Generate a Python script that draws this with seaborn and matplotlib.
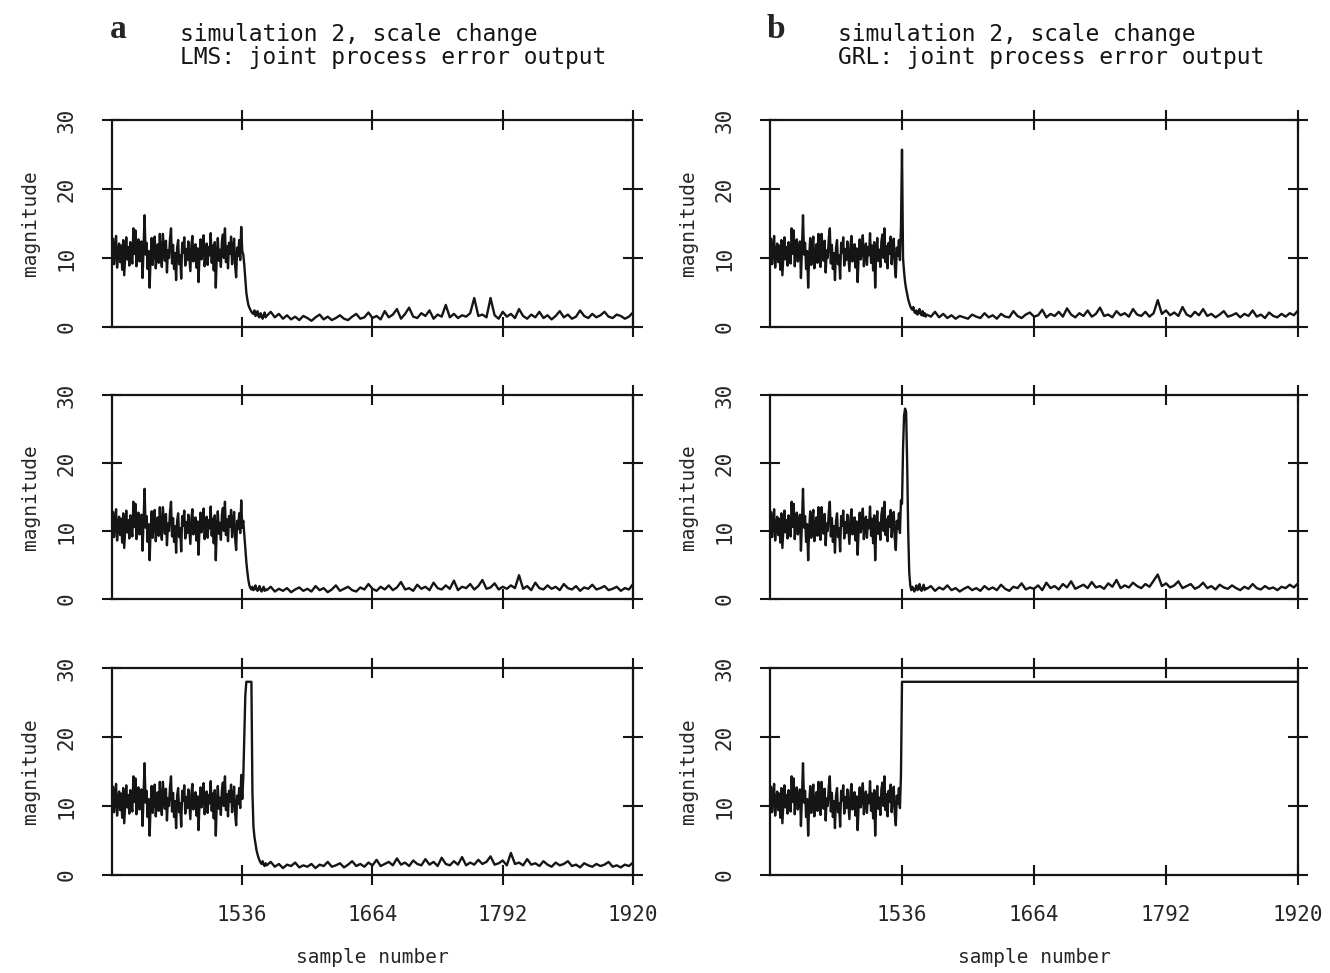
import numpy as np
import pandas as pd
import matplotlib
matplotlib.use("Agg")
import matplotlib.pyplot as plt
import seaborn as sns

# ---------------- data ----------------
x_ticks = [1536, 1664, 1792, 1920]
y_ticks = [0, 10, 20, 30]
x_range = [1408, 1920]
y_range = [0, 30]

# input segment before the scale change (one value per sample, 1408..1535)
pre_start = 1408
pre_change = [
    10.2, 12.8, 9.1, 11.5, 13.2, 8.6, 10.9, 12.1, 9.4, 11.8, 8.3, 12.6, 7.5, 10.4, 13.0, 9.8,
    11.6, 8.9, 12.3, 10.1, 9.2, 14.3, 10.6, 14.0, 8.8, 11.2, 12.7, 9.5, 10.8, 12.4, 7.1, 11.3,
    16.2, 10.5, 12.2, 8.4, 11.0, 5.7, 10.3, 12.9, 9.0, 11.7, 13.1, 8.5, 10.6, 12.0, 9.3, 13.5,
    10.1, 8.7, 13.5, 11.4, 9.6, 12.5, 7.9, 11.1, 10.0, 12.8, 14.3, 9.2, 11.9, 8.4, 10.7, 6.8,
    11.5, 12.6, 9.1, 10.4, 7.0, 12.2, 10.8, 13.0, 8.9, 11.3, 9.7, 12.4, 10.2, 8.1, 11.8, 13.2,
    9.5, 10.9, 12.0, 8.6, 11.4, 6.5, 10.3, 12.7, 9.8, 11.1, 13.3, 8.8, 10.6, 12.1, 9.0, 11.6,
    10.4, 13.6, 9.3, 11.8, 8.2, 12.3, 5.7, 10.5, 12.9, 9.6, 11.2, 8.7, 12.4, 13.4, 10.0, 14.3,
    9.4, 11.7, 8.5, 12.2, 10.6, 13.1, 9.1, 11.4, 12.8, 8.9, 7.2, 11.5, 10.3, 12.6, 9.7, 14.5,
]

# transient just after the change (one value per sample, 1536..1559)
transient_start = 1536
lms_top_transient = [11.0, 10.5, 9.0, 7.0, 5.0, 4.0, 3.2, 2.8, 2.5, 2.2, 2.0, 1.9,
                     2.4, 1.6, 1.8, 2.3, 1.5, 1.4, 2.0, 1.7, 1.2, 1.6, 2.1, 1.4]
lms_mid_transient = [10.5, 11.5, 9.5, 7.5, 5.5, 4.0, 2.8, 2.0, 1.6, 1.4, 1.8, 1.3,
                     1.5, 2.0, 1.4, 1.2, 1.6, 1.9, 1.3, 1.1, 1.5, 1.8, 1.2, 1.4]
lms_bot_transient = [11.0, 14.0, 20.0, 26.0, 28.0, 28.0, 28.0, 28.0, 28.0, 28.0, 12.0, 7.0,
                     5.5, 4.5, 3.6, 3.0, 2.5, 2.1, 1.8, 1.6, 2.0, 1.5, 1.3, 1.7]
grl_top_transient = [25.7, 10.0, 8.0, 6.5, 5.5, 4.8, 4.0, 3.5, 3.0, 2.7, 2.5, 2.9,
                     2.2, 2.0, 2.4, 1.8, 2.1, 2.6, 1.9, 1.7, 2.3, 1.6, 2.0, 1.5]
grl_mid_transient = [14.0, 22.0, 27.0, 28.0, 27.5, 20.0, 10.0, 4.0, 2.0, 1.3, 1.8, 1.4,
                     1.1, 1.6, 2.0, 1.3, 1.5, 2.2, 1.4, 1.2, 1.7, 2.1, 1.3, 1.6]

# converged output (every 4th sample, 1560..1920)
tail_start = 1560
tail_step = 4
lms_top_tail = [
    1.6, 2.2, 1.4, 1.9, 1.2, 1.7, 1.1, 1.5, 1.0, 1.6,
    1.3, 0.9, 1.4, 1.8, 1.1, 1.5, 1.0, 1.3, 1.7, 1.2,
    1.0, 1.5, 1.9, 1.2, 1.4, 2.1, 1.3, 1.6, 1.1, 2.3,
    1.4, 1.8, 2.6, 1.2, 1.9, 2.8, 1.5, 1.3, 2.0, 1.6,
    2.4, 1.2, 1.8, 1.5, 3.2, 1.4, 1.9, 1.3, 1.7, 1.5,
    2.0, 4.2, 1.6, 1.8, 1.4, 4.2, 1.7, 1.2, 2.2, 1.5,
    1.9, 1.3, 2.6, 1.6, 1.2, 1.8, 1.4, 2.2, 1.3, 1.7,
    1.1, 1.6, 2.3, 1.4, 1.8, 1.2, 1.5, 2.4, 1.6, 1.3,
    1.9, 1.4, 1.7, 2.2, 1.5, 1.3, 1.8, 1.6, 1.2, 1.5, 2.1,
]
lms_mid_tail = [
    1.3, 1.8, 1.1, 1.5, 1.2, 1.6, 1.0, 1.4, 1.7, 1.2,
    1.5, 1.1, 1.9, 1.3, 1.6, 1.0, 1.4, 2.0, 1.2, 1.5,
    1.8, 1.3, 1.1, 1.7, 1.4, 2.2, 1.5, 1.2, 1.8, 1.4,
    2.0, 1.3, 1.7, 2.5, 1.4, 1.6, 1.2, 2.1, 1.5, 1.8,
    1.3, 2.4, 1.6, 1.4, 2.0, 1.5, 2.7, 1.3, 1.8, 1.6,
    2.2, 1.4, 1.9, 2.8, 1.5, 1.7, 2.3, 1.4, 1.8, 1.5,
    2.0, 1.6, 3.5, 1.5, 1.9, 1.3, 2.4, 1.6, 1.4, 2.0,
    1.5, 1.8, 1.3, 2.2, 1.6, 1.4, 1.9, 1.2, 1.7, 1.5,
    2.1, 1.4, 1.6, 1.9, 1.3, 1.5, 1.8, 1.2, 1.6, 1.4, 2.2,
]
lms_bot_tail = [
    1.4, 1.9, 1.2, 1.6, 1.0, 1.5, 1.3, 1.8, 1.1, 1.4,
    1.2, 1.6, 1.0, 1.5, 1.3, 1.9, 1.2, 1.4, 1.7, 1.1,
    1.5, 2.0, 1.3, 1.6, 1.2, 1.8, 1.4, 2.2, 1.3, 1.6,
    1.9, 1.4, 2.4, 1.5, 1.8, 1.3, 2.1, 1.6, 1.4, 2.3,
    1.5, 1.9, 1.3, 2.5, 1.6, 1.4, 2.0, 1.5, 2.6, 1.4,
    1.8, 1.5, 2.2, 1.6, 1.9, 2.7, 1.5, 1.7, 2.1, 1.4,
    3.2, 1.6, 1.8, 1.4, 2.3, 1.5, 1.7, 1.3, 2.0, 1.5,
    1.2, 1.8, 1.4, 1.6, 2.0, 1.3, 1.5, 1.1, 1.7, 1.4,
    1.2, 1.6, 1.3, 1.5, 1.9, 1.2, 1.4, 1.1, 1.5, 1.3, 1.8,
]
grl_top_tail = [
    1.8, 1.5, 2.2, 1.4, 1.9, 1.3, 1.7, 1.2, 1.6, 1.4,
    1.2, 1.8, 1.5, 1.3, 2.0, 1.4, 1.7, 1.2, 1.9, 1.5,
    1.4, 2.3, 1.6, 1.3, 1.8, 2.1, 1.5, 1.7, 2.5, 1.4,
    1.9, 1.6, 2.2, 1.5, 2.7, 1.8, 1.4, 2.0, 1.6, 2.4,
    1.5, 1.9, 2.8, 1.6, 1.8, 1.4, 2.3, 1.7, 2.0, 1.5,
    2.6, 1.8, 1.6, 2.2, 1.5, 2.0, 3.9, 1.9, 2.4, 1.7,
    2.1, 1.6, 2.9, 1.8, 1.5, 2.2, 1.7, 2.6, 1.6, 1.9,
    1.4, 1.8, 2.3, 1.5, 1.7, 2.0, 1.4, 1.9, 1.6, 2.4,
    1.5, 1.8, 1.3, 2.1, 1.6, 1.4, 1.9, 1.5, 2.0, 1.7, 2.4,
]
grl_mid_tail = [
    1.5, 1.9, 1.2, 1.7, 1.4, 2.0, 1.3, 1.6, 1.1, 1.5,
    1.8, 1.3, 1.6, 1.2, 1.9, 1.4, 1.7, 1.3, 2.1, 1.5,
    1.2, 1.8, 1.6, 2.3, 1.4, 1.7, 1.5, 2.0, 1.3, 2.4,
    1.6, 1.9, 1.4, 2.2, 1.7, 2.6, 1.5, 1.8, 2.1, 1.6,
    2.5, 1.7, 1.9, 1.5, 2.3, 1.8, 2.8, 1.6, 2.0, 1.7,
    2.4, 1.9, 1.6, 2.2, 1.8, 2.7, 3.6, 1.9, 2.3, 1.7,
    2.0, 2.6, 1.6, 1.9, 2.2, 1.5, 1.8, 2.4, 1.6, 1.9,
    1.4, 2.1, 1.7, 1.5, 2.0, 1.6, 1.3, 1.8, 1.5, 2.2,
    1.6, 1.4, 1.9, 1.5, 1.7, 1.3, 1.8, 1.6, 2.1, 1.7, 2.3,
]
# GRL bottom: output saturates at a constant level after the change
grl_bot_post_samples = [1536, 1920]
grl_bot_post_values = [28.0, 28.0]

panel_letters = ["a", "b"]
column_titles = [
    "simulation 2, scale change\nLMS: joint process error output",
    "simulation 2, scale change\nGRL: joint process error output",
]
x_label = "sample number"
y_label = "magnitude"


def panel_frame(post_samples, post_values):
    s = list(range(pre_start, pre_start + len(pre_change))) + list(post_samples)
    v = list(pre_change) + list(post_values)
    return pd.DataFrame({"sample": s, "magnitude": v})


def standard_post(transient, tail):
    s = list(range(transient_start, transient_start + len(transient)))
    s += [tail_start + tail_step * k for k in range(len(tail))]
    return s, list(transient) + list(tail)


panels = [
    [panel_frame(*standard_post(lms_top_transient, lms_top_tail)),
     panel_frame(*standard_post(grl_top_transient, grl_top_tail))],
    [panel_frame(*standard_post(lms_mid_transient, lms_mid_tail)),
     panel_frame(*standard_post(grl_mid_transient, grl_mid_tail))],
    [panel_frame(*standard_post(lms_bot_transient, lms_bot_tail)),
     panel_frame(grl_bot_post_samples, grl_bot_post_values)],
]

# ---------------- style ----------------
sns.set_style("white")
plt.rcParams["font.family"] = ["DejaVu Sans Mono"]
ink = "#151515"

W, H = 1330, 973
fig = plt.figure(figsize=(W / 100, H / 100), dpi=100)
fig.patch.set_facecolor("white")

col_px = [(112, 633), (770, 1298)]
row_px = [(120, 327), (395, 599), (668, 875)]

for r, (top, bot) in enumerate(row_px):
    for c, (left, right) in enumerate(col_px):
        ax = fig.add_axes([left / W, 1 - bot / H, (right - left) / W, (bot - top) / H])
        sns.lineplot(data=panels[r][c], x="sample", y="magnitude", ax=ax,
                     color=ink, linewidth=1.7, estimator=None)
        ax.set_xlim(*x_range)
        ax.set_ylim(*y_range)
        ax.set_xticks(x_ticks)
        ax.set_yticks(y_ticks)
        ax.set_yticklabels([str(v) for v in y_ticks], rotation=90, va="center")
        for sp in ax.spines.values():
            sp.set_visible(True)
            sp.set_color(ink)
            sp.set_linewidth(1.6)
        ax.tick_params(axis="both", which="major", direction="inout",
                       top=True, bottom=True, left=True, right=True,
                       length=15, width=1.5, color=ink, labelsize=15)
        ax.tick_params(axis="y", pad=18)
        ax.tick_params(axis="x", pad=14)
        ax.set_ylabel(y_label, fontsize=14)
        ax.yaxis.set_label_coords(-72 / (right - left), 0.5)
        if r < 2:
            ax.tick_params(axis="x", labelbottom=False)
            ax.set_xlabel("")
        else:
            ax.set_xlabel(x_label, fontsize=14)
            ax.xaxis.set_label_coords(0.5, -73 / (bot - top))

for c, (left, right) in enumerate(col_px):
    fig.text((left + 6) / W, 1 - 30 / H, panel_letters[c], family="Liberation Serif",
             fontweight="bold", fontsize=24, ha="center", va="center")
    fig.text((left + 68) / W, 1 - 23 / H, column_titles[c], ha="left", va="top",
             fontsize=16.5, linespacing=1.0, color=ink)

fig.savefig("out.png", dpi=100, facecolor="white")
